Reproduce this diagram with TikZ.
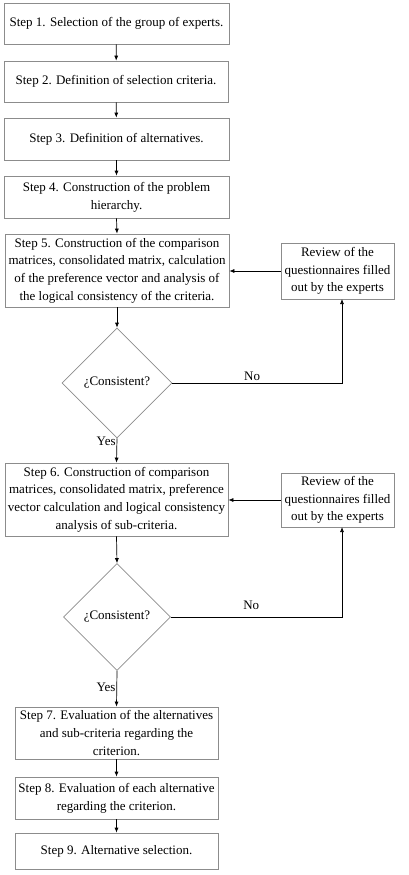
\documentclass[tikz,border=0pt]{standalone}
\usepackage{fontspec}
\setmainfont{Liberation Serif}
\usetikzlibrary{shapes.geometric,arrows.meta}
\begin{document}
\begin{tikzpicture}[x=1pt,y=-1pt,
  txt/.style={font=\fontsize{13}{17.7}\selectfont},
  stepbox/.style={txt, draw=black!45, line width=0.7pt, align=center, inner sep=1pt, minimum width=#1},
  stepbox/.default=225pt,
  choice/.style={txt, draw=black!45, line width=0.6pt, diamond, minimum width=#1, minimum height=#1, inner sep=0pt},
  choice/.default=110pt,
  conn/.style={draw=black, line width=0.7pt, -{Latex[length=5pt,width=4pt]}},
  plain/.style={draw=black, line width=0.7pt}
]
\useasboundingbox (0,0) rectangle (408,875);
\node[stepbox, minimum height=41pt] (s1) at (116.5,23.5) {Step 1. Selection of the group of experts.};
\node[stepbox=224pt, minimum height=41pt] (s2) at (116,81.5) {Step 2. Definition of selection criteria.};
\node[stepbox, minimum height=42pt] (s3) at (116.5,139) {Step 3. Definition of alternatives.};
\node[stepbox, minimum height=42pt] (s4) at (116.5,197) {Step 4. Construction of the problem\\hierarchy.};
\node[stepbox=224pt, minimum height=73pt] (s5) at (117,270.5) {Step 5. Construction of the comparison\\matrices, consolidated matrix, calculation\\of the preference vector and analysis of\\the logical consistency of the criteria.};
\node[stepbox=113pt, minimum height=56pt] (r1) at (337.5,271) {Review of the\\questionnaires filled\\out by the experts};
\node[choice] (d1) at (117,383) {¿Consistent?};
\node[stepbox=223pt, minimum height=73pt] (s6) at (116.5,499.5) {Step 6. Construction of comparison\\matrices, consolidated matrix, preference\\vector calculation and logical consistency\\analysis of sub-criteria.};
\node[stepbox=113pt, minimum height=54pt] (r2) at (337.5,500) {Review of the\\questionnaires filled\\out by the experts};
\node[choice=107pt] (d2) at (117,617) {¿Consistent?};
\node[stepbox=203pt, minimum height=52pt] (s7) at (116.5,733) {Step 7. Evaluation of the alternatives\\and sub-criteria regarding the\\criterion.};
\node[stepbox=203pt, minimum height=42pt] (s8) at (116.5,798) {Step 8. Evaluation of each alternative\\regarding the criterion.};
\node[stepbox=203pt, minimum height=36pt] (s9) at (116.5,851) {Step 9. Alternative selection.};

\draw[conn] (s1) -- (s2);
\draw[conn] (s2) -- (s3);
\draw[conn] (s3) -- (s4);
\draw[conn] (s4.south) -- (s5.north);
\draw[conn] (s5.south) -- (d1.north);
\draw[conn] (r1.west) -- (s5.east |- r1.west);
\coordinate (c1) at (342,299);
\draw[conn] (d1.east) -| (c1) node[pos=0.235, above, txt, inner sep=2pt] {No};
\draw[conn] (d1.south) -- (s6.north) node[pos=0.12, left, txt, inner sep=1pt] {Yes};
\draw[conn] (s6.south) -- (d2.north);
\draw[conn] (r2.west) -- (s6.east |- r2.west);
\coordinate (c2) at (342,527);
\draw[conn] (d2.east) -| (c2) node[pos=0.235, above, txt, inner sep=7pt] {No};
\draw[conn] (d2.south) -- (s7.north) node[pos=0.45, left, txt, inner sep=1pt] {Yes};
\draw[conn] (s7) -- (s8);
\draw[conn] (s8) -- (s9);
\end{tikzpicture}
\end{document}
